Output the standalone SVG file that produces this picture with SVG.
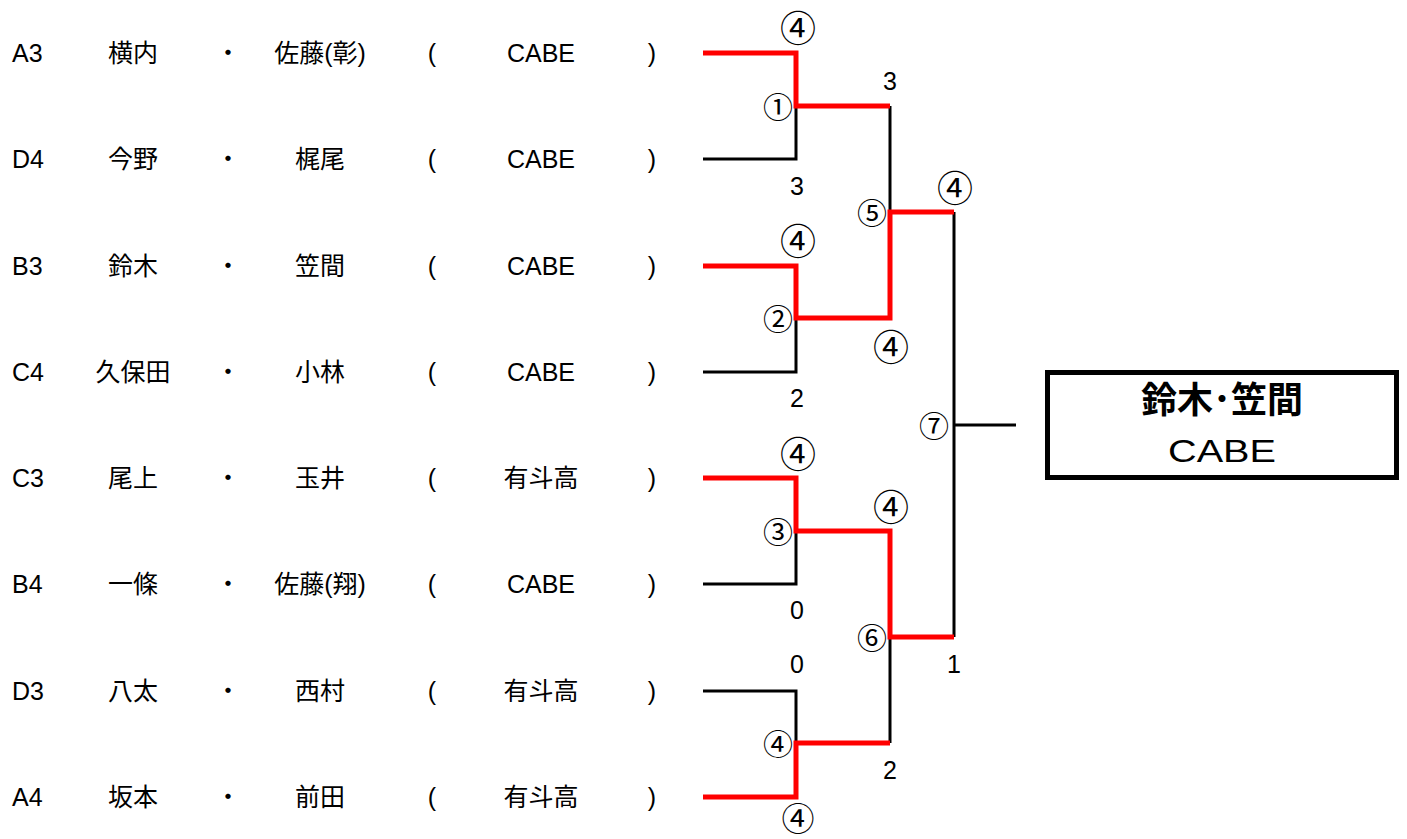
<svg xmlns="http://www.w3.org/2000/svg" width="1407" height="839" viewBox="0 0 1407 839">
<style>
text{font-family:"Liberation Sans","Noto Sans CJK JP",sans-serif;fill:#000;dominant-baseline:central}
.t{font-size:25px}
.c{text-anchor:middle}
.big{font-family:"Noto Sans CJK JP",sans-serif;font-size:36px;text-anchor:middle}
.sm{font-family:"Noto Sans CJK JP",sans-serif;font-size:30px;text-anchor:middle}
.num{font-size:25px;text-anchor:middle}
.k{fill:none;stroke:#000;stroke-width:3}
.r{fill:none;stroke:#ff0000;stroke-width:5}
</style>
<rect width="1407" height="839" fill="#fff"/>
<g id="entries">
<g id="row1"><text class="t" x="12" y="53">A3</text><text class="t c" x="133" y="53">横内</text><text class="t c" x="228" y="53">・</text><text class="t c" x="320" y="53">佐藤(彰)</text><text class="t c" x="432" y="53">(</text><text class="t c" x="541" y="53">CABE</text><text class="t c" x="652" y="53">)</text></g>
<g id="row2"><text class="t" x="12" y="159">D4</text><text class="t c" x="133" y="159">今野</text><text class="t c" x="228" y="159">・</text><text class="t c" x="320" y="159">梶尾</text><text class="t c" x="432" y="159">(</text><text class="t c" x="541" y="159">CABE</text><text class="t c" x="652" y="159">)</text></g>
<g id="row3"><text class="t" x="12" y="266">B3</text><text class="t c" x="133" y="266">鈴木</text><text class="t c" x="228" y="266">・</text><text class="t c" x="320" y="266">笠間</text><text class="t c" x="432" y="266">(</text><text class="t c" x="541" y="266">CABE</text><text class="t c" x="652" y="266">)</text></g>
<g id="row4"><text class="t" x="12" y="372">C4</text><text class="t c" x="133" y="372">久保田</text><text class="t c" x="228" y="372">・</text><text class="t c" x="320" y="372">小林</text><text class="t c" x="432" y="372">(</text><text class="t c" x="541" y="372">CABE</text><text class="t c" x="652" y="372">)</text></g>
<g id="row5"><text class="t" x="12" y="478">C3</text><text class="t c" x="133" y="478">尾上</text><text class="t c" x="228" y="478">・</text><text class="t c" x="320" y="478">玉井</text><text class="t c" x="432" y="478">(</text><text class="t c" x="541" y="478">有斗高</text><text class="t c" x="652" y="478">)</text></g>
<g id="row6"><text class="t" x="12" y="584">B4</text><text class="t c" x="133" y="584">一條</text><text class="t c" x="228" y="584">・</text><text class="t c" x="320" y="584">佐藤(翔)</text><text class="t c" x="432" y="584">(</text><text class="t c" x="541" y="584">CABE</text><text class="t c" x="652" y="584">)</text></g>
<g id="row7"><text class="t" x="12" y="691">D3</text><text class="t c" x="133" y="691">八太</text><text class="t c" x="228" y="691">・</text><text class="t c" x="320" y="691">西村</text><text class="t c" x="432" y="691">(</text><text class="t c" x="541" y="691">有斗高</text><text class="t c" x="652" y="691">)</text></g>
<g id="row8"><text class="t" x="12" y="797">A4</text><text class="t c" x="133" y="797">坂本</text><text class="t c" x="228" y="797">・</text><text class="t c" x="320" y="797">前田</text><text class="t c" x="432" y="797">(</text><text class="t c" x="541" y="797">有斗高</text><text class="t c" x="652" y="797">)</text></g>
</g>
<g id="connectors">
<polyline class="k" points="703,159 796,159 796,106"/>
<polyline class="k" points="703,372 796,372 796,318"/>
<polyline class="k" points="703,584 796,584 796,531"/>
<polyline class="k" points="703,691 796,691 796,743"/>
<polyline class="k" points="890,106 890,212"/>
<polyline class="k" points="890,637 890,743"/>
<polyline class="k" points="954,212 954,637"/>
<line class="k" x1="954" y1="425" x2="1016" y2="425"/>
<polyline class="r" points="703,53 796,53 796,106 890,106"/>
<polyline class="r" points="703,266 796,266 796,318 890,318 890,212 954,212"/>
<polyline class="r" points="703,478 796,478 796,531 890,531 890,637 954,637"/>
<polyline class="r" points="703,797 796,797 796,743 890,743"/>
</g>
<g id="scores">
<text class="big" x="798" y="26">④</text>
<text class="sm" x="778" y="105">①</text>
<text class="num" x="797" y="186">3</text>
<text class="num" x="890" y="81">3</text>
<text class="sm" x="872" y="211">⑤</text>
<text class="big" x="955" y="186">④</text>
<text class="big" x="798" y="239">④</text>
<text class="sm" x="778" y="317">②</text>
<text class="num" x="797" y="398">2</text>
<text class="big" x="891" y="345">④</text>
<text class="sm" x="934" y="424">⑦</text>
<text class="big" x="798" y="452">④</text>
<text class="sm" x="778" y="530">③</text>
<text class="num" x="797" y="610">0</text>
<text class="big" x="891" y="505">④</text>
<text class="sm" x="872" y="636">⑥</text>
<text class="num" x="954" y="664">1</text>
<text class="num" x="797" y="664">0</text>
<text class="sm" x="778" y="742">④</text>
<text class="num" x="890" y="770">2</text>
<text class="big" x="798" y="817" style="font-size:33px">④</text>
</g>
<g id="winner">
<rect x="1047.5" y="372.5" width="349" height="105" fill="#fff" stroke="#000" stroke-width="5"/>
<text x="1222" y="397" style="font-family:'Noto Sans CJK JP',sans-serif;font-size:36px;font-weight:bold;text-anchor:middle">鈴木･笠間</text>
<text x="1168" y="451" style="font-size:31px" textLength="108" lengthAdjust="spacingAndGlyphs">CABE</text>
</g>
</svg>
